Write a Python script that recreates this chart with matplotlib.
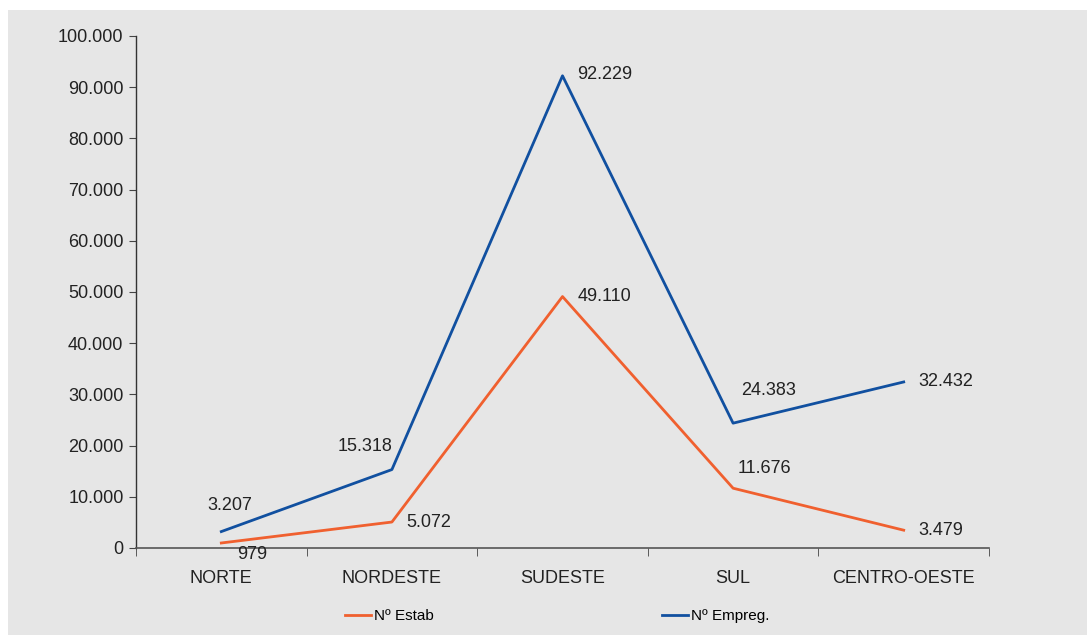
import matplotlib.pyplot as plt
import matplotlib.patches as mpatches
import matplotlib.lines as mlines

plt.rcParams["font.family"] = ["Liberation Sans", "DejaVu Sans"]

regioes = ["NORTE", "NORDESTE", "SUDESTE", "SUL", "CENTRO-OESTE"]
n_estab = [979, 5072, 49110, 11676, 3479]
n_empreg = [3207, 15318, 92229, 24383, 32432]
y_ticks = [0, 10000, 20000, 30000, 40000, 50000, 60000, 70000, 80000, 90000, 100000]

COR_ESTAB = "#f0602f"
COR_EMPREG = "#1150a0"
FUNDO = "#e6e6e6"

# offsets (pixels) for each value label
off_estab = [(31, -12), (37, 0), (42, 0), (31, 20), (37, 0)]
off_empreg = [(8, 26), (-27, 23), (42, 1), (35, 33), (42, 0)]


def fmt(v):
    return f"{v:,}".replace(",", ".")


def main():
    fig = plt.figure(figsize=(10.87, 6.35), dpi=100)
    W, H = 1087, 635
    fig.patches.append(mpatches.Rectangle(
        (8 / W, 0), 1, 1 - 10 / H, transform=fig.transFigure,
        facecolor=FUNDO, edgecolor="none", zorder=-10,
    ))

    ax = fig.add_axes([136 / W, 1 - 548 / H, (989 - 136) / W, (548 - 36) / H])
    ax.set_facecolor("none")

    x = list(range(len(regioes)))
    ax.plot(x, n_estab, color=COR_ESTAB, linewidth=2)
    ax.plot(x, n_empreg, color=COR_EMPREG, linewidth=2)

    for xi, v, off in zip(x, n_estab, off_estab):
        ax.annotate(fmt(v), (xi, v), xytext=off, textcoords="offset pixels",
                    ha="center", va="center", fontsize=13, color="#222222")
    for xi, v, off in zip(x, n_empreg, off_empreg):
        ax.annotate(fmt(v), (xi, v), xytext=off, textcoords="offset pixels",
                    ha="center", va="center", fontsize=13, color="#222222")

    ax.set_xlim(-0.5, len(regioes) - 0.5)
    ax.set_ylim(0, 100000)
    ax.set_yticks(y_ticks)
    ax.set_yticklabels([fmt(t) for t in y_ticks], fontsize=13, color="#222222")
    ax.set_xticks(x)
    ax.set_xticklabels(regioes, fontsize=13, color="#222222")
    ax.tick_params(axis="x", length=0, pad=16)
    ax.set_xticks([i - 0.5 for i in range(len(regioes) + 1)], minor=True)
    ax.tick_params(axis="x", which="minor", length=6, color="#444444", direction="out")
    ax.tick_params(axis="y", length=5, color="#444444", pad=4)

    for side in ["top", "right"]:
        ax.spines[side].set_visible(False)
    ax.spines["left"].set_color("#333333")
    ax.spines["bottom"].set_color("#555555")
    ax.spines["left"].set_linewidth(1)
    ax.spines["bottom"].set_linewidth(1.2)

    handles = [
        mlines.Line2D([], [], color=COR_ESTAB, linewidth=2),
        mlines.Line2D([], [], color=COR_EMPREG, linewidth=2),
    ]
    fig.legend(handles[:1], ["Nº Estab"], loc="center left",
               bbox_to_anchor=(331 / W, 1 - 616 / H), frameon=False,
               fontsize=11, handlelength=1.7, handletextpad=0.2)
    fig.legend(handles[1:], ["Nº Empreg."], loc="center left",
               bbox_to_anchor=(648 / W, 1 - 616 / H), frameon=False,
               fontsize=11, handlelength=1.7, handletextpad=0.2)

    fig.savefig("out.png", dpi=100, facecolor="white")


if __name__ == "__main__":
    main()
